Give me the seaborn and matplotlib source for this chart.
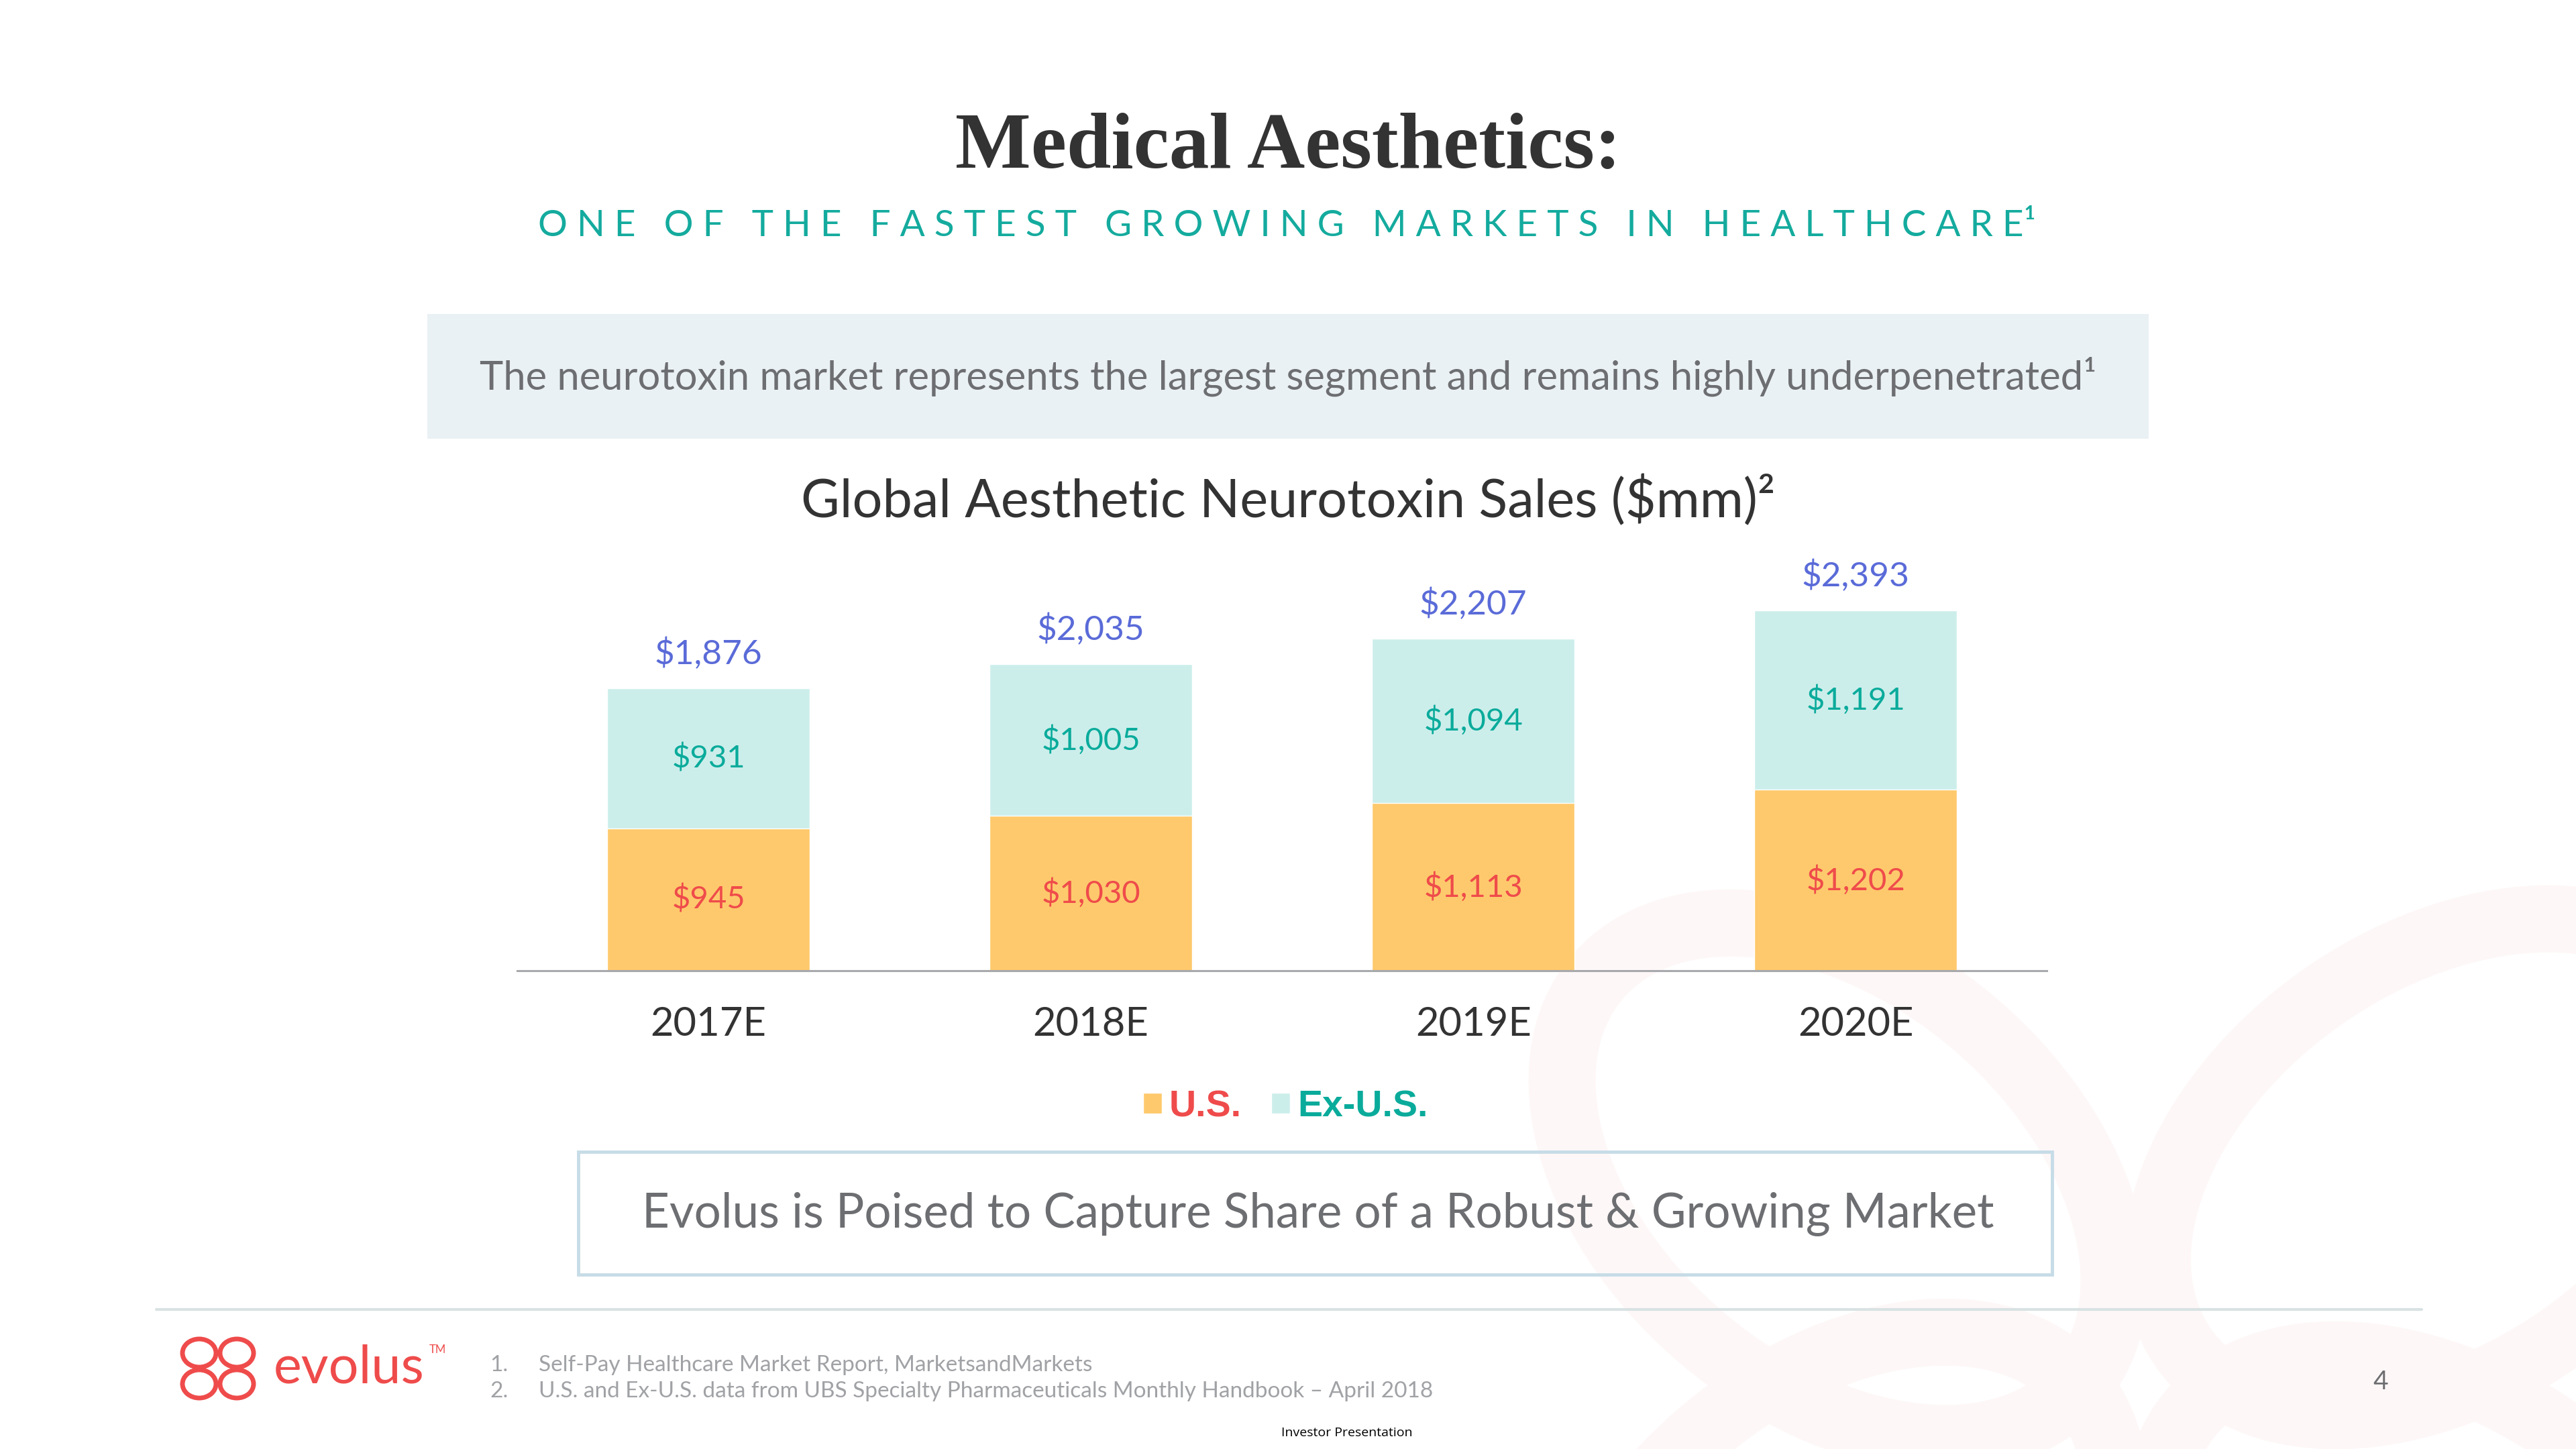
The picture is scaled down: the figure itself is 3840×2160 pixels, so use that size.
import matplotlib
matplotlib.use("Agg")
import matplotlib.pyplot as plt
from matplotlib.patches import Rectangle, Ellipse, Patch
import seaborn as sns

# data ($mm)
years = ["2017E", "2018E", "2019E", "2020E"]
us_sales = [945, 1030, 1113, 1202]
exus_sales = [931, 1005, 1094, 1191]
totals = [u + e for u, e in zip(us_sales, exus_sales)]
series_names = ["U.S.", "Ex-U.S."]

US_COLOR = "#fec96c"
EXUS_COLOR = "#cceeeb"
US_TEXT = "#ef4b4b"
EXUS_TEXT = "#0aab9b"
TOTAL_TEXT = "#5a6bd8"
GREY_TEXT = "#6d6e71"
DARK = "#333333"
WATERMARK = "#fef7f7"

sns.set_style("white")
plt.rcParams["font.family"] = ["Lato", "DejaVu Sans"]

fig = plt.figure(figsize=(38.4, 21.6), dpi=100)

# background layer in pixel coordinates (y down)
bg = fig.add_axes([0, 0, 1, 1], zorder=0)
bg.set_xlim(0, 3840)
bg.set_ylim(2160, 0)
bg.axis("off")

# faint evolus watermark at bottom right
for cx, cy, ang in [(2740, 1760, 40), (3640, 1740, -35), (2740, 2370, -40), (3640, 2390, 35)]:
    bg.add_patch(Ellipse((cx, cy), 940, 620, angle=ang, fill=False,
                         edgecolor=WATERMARK, lw=72))

# titles
bg.text(1920, 222, "Medical Aesthetics:", ha="center", va="center", fontsize=86,
        fontweight="bold", color=DARK, family=["Liberation Serif", "DejaVu Serif"])

def spaced(s):
    return "   ".join(" ".join(w) for w in s.split())

bg.text(1918, 337, spaced("ONE OF THE FASTEST GROWING MARKETS IN HEALTHCARE") + "¹",
        ha="center", va="center", fontsize=39.5, color="#14ab9e")

# grey banner
bg.add_patch(Rectangle((637, 468), 2566, 186, facecolor="#eaf1f4", edgecolor="none"))
bg.text(1920, 561, "The neurotoxin market represents the largest segment and remains highly underpenetrated¹",
        ha="center", va="center", fontsize=43, color=GREY_TEXT)

bg.text(1920, 747, "Global Aesthetic Neurotoxin Sales ($mm)²", ha="center", va="center",
        fontsize=57, color=DARK)

# bottom outlined box
bg.add_patch(Rectangle((862, 1717), 2197, 183, fill=False, edgecolor="#c6dce6", lw=3.5))
bg.text(1965, 1810, "Evolus is Poised to Capture Share of a Robust & Growing Market",
        ha="center", va="center", fontsize=51, color=GREY_TEXT)

# footer
bg.plot([233, 3610], [1952, 1952], color="#d9e2e3", lw=3)
for cx, cy in [(297, 2017), (353, 2017), (297, 2063), (353, 2063)]:
    bg.add_patch(Ellipse((cx, cy), 50, 42, fill=False, edgecolor=US_TEXT, lw=5))
bg.text(408, 2040, "evolus", ha="left", va="center", fontsize=57, color=US_TEXT)
bg.text(640, 2012, "TM", ha="left", va="center", fontsize=12, color=US_TEXT)

foot_color = "#a0a2a5"
bg.text(730, 2035, "1.", ha="left", va="center", fontsize=24, color=foot_color)
bg.text(803, 2035, "Self-Pay Healthcare Market Report, MarketsandMarkets",
        ha="left", va="center", fontsize=24, color=foot_color)
bg.text(730, 2074, "2.", ha="left", va="center", fontsize=24, color=foot_color)
bg.text(803, 2074, "U.S. and Ex-U.S. data from UBS Specialty Pharmaceuticals Monthly Handbook – April 2018",
        ha="left", va="center", fontsize=24, color=foot_color)
bg.text(3549, 2060, "4", ha="center", va="center", fontsize=28, color=GREY_TEXT)
bg.text(2008, 2136, "Investor Presentation", ha="center", va="center", fontsize=14,
        color="black", family=["Open Sans", "DejaVu Sans"])

# stacked bar chart
ax = fig.add_axes([0.2008, 0.3301, 0.5938, 0.2804], zorder=1)
ax.patch.set_alpha(0)
sns.barplot(x=years, y=totals, color=EXUS_COLOR, width=0.53, saturation=1, ax=ax)
sns.barplot(x=years, y=us_sales, color=US_COLOR, width=0.53, saturation=1, ax=ax)
ax.set_xlim(-0.5, 3.5)
ax.set_ylim(0, 2700)

for i, (u, e, t) in enumerate(zip(us_sales, exus_sales, totals)):
    ax.text(i, u / 2, f"${u:,}", ha="center", va="center", fontsize=34, color=US_TEXT)
    ax.text(i, u + e / 2, f"${e:,}", ha="center", va="center", fontsize=34, color=EXUS_TEXT)
    ax.annotate(f"${t:,}", (i, t), xytext=(0, 37), textcoords="offset points",
                ha="center", va="center", fontsize=37, color=TOTAL_TEXT, annotation_clip=False)

sns.despine(ax=ax, left=True)
ax.spines["bottom"].set_color("#a7a9ac")
ax.spines["bottom"].set_linewidth(2.2)
ax.set_yticks([])
ax.set_xlabel("")
ax.set_ylabel("")
ax.tick_params(axis="x", length=0, pad=38, labelsize=43, labelcolor=DARK)

handles = [Patch(facecolor=US_COLOR), Patch(facecolor=EXUS_COLOR)]
leg = fig.legend(handles, series_names, loc="center", bbox_to_anchor=(0.499, 0.236), ncol=2,
                 frameon=False, handlelength=0.5, handleheight=0.5, handletextpad=0.2,
                 columnspacing=0.8, prop={"family": ["Liberation Sans", "DejaVu Sans"],
                                          "weight": "bold", "size": 40})
for txt, c in zip(leg.get_texts(), [US_TEXT, EXUS_TEXT]):
    txt.set_color(c)

fig.savefig("out.png", dpi=100, facecolor="white")
